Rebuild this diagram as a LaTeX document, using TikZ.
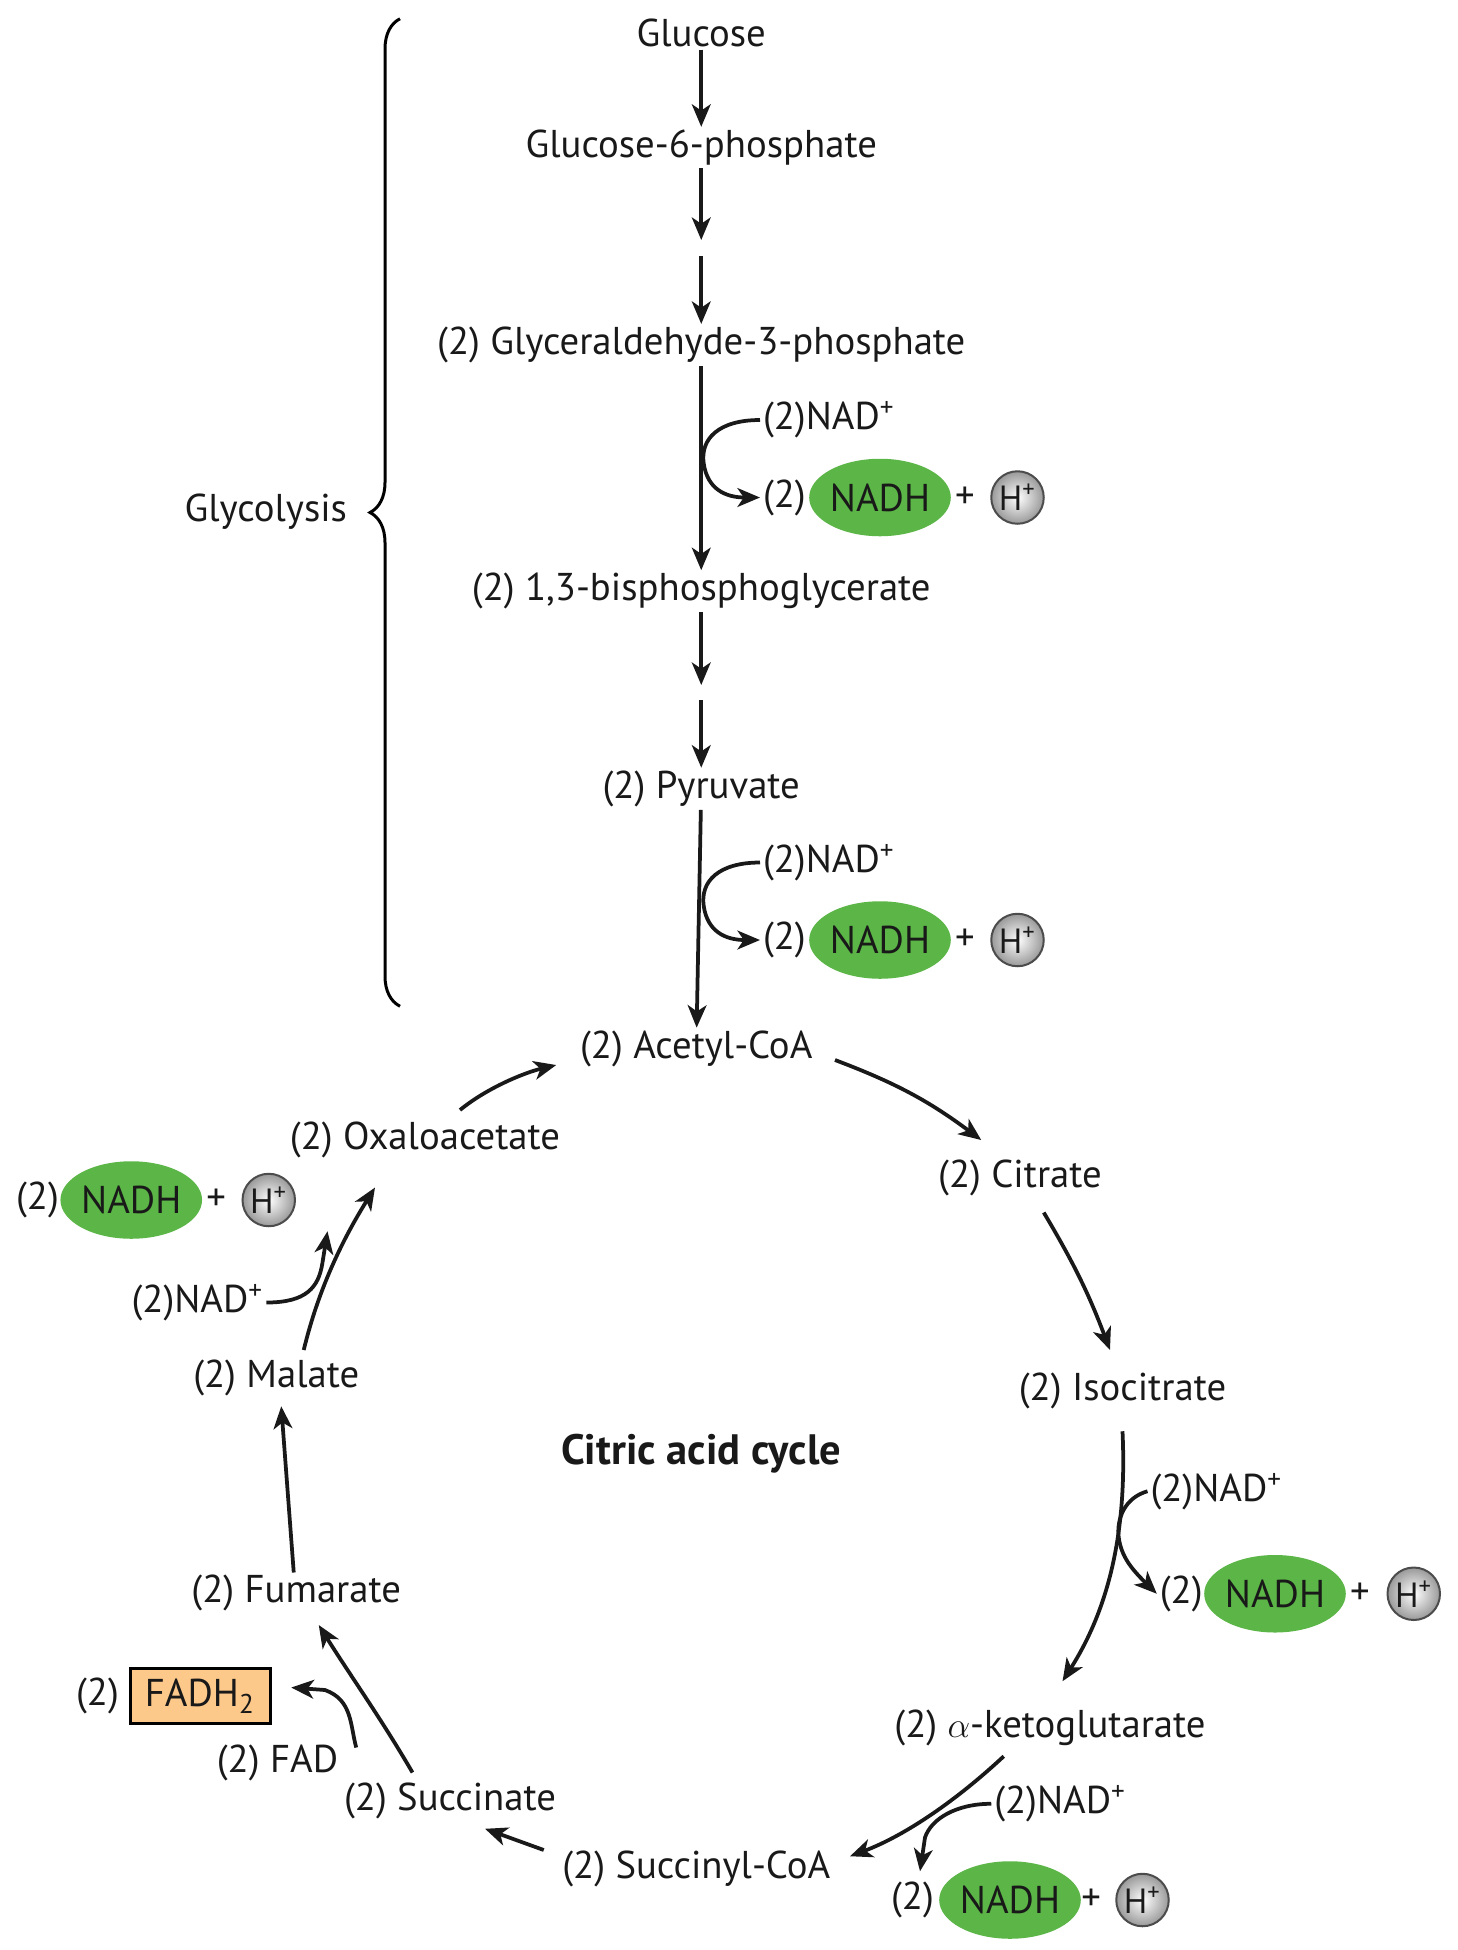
\documentclass[tikz,border=0pt]{standalone}
\usepackage{fontspec}
\setmainfont{PT Sans}
\usetikzlibrary{arrows.meta,decorations.pathreplacing}
\definecolor{nadg}{HTML}{5BB547}
\definecolor{fadc}{HTML}{FDC98A}
\begin{document}
\begin{tikzpicture}[x=0.5pt,y=-0.5pt,
  every node/.style={font=\fontsize{15.5}{18}\selectfont,text=black!90,inner sep=1pt},
  ar/.style={line width=1.5pt,draw=black!90,-{Stealth[length=9pt,width=7.5pt,inset=2.5pt]}},
  nadh/.style={ellipse,fill=nadg,minimum width=51pt,minimum height=31pt,inner sep=0pt},
  hp/.style={circle,draw=black!70,line width=0.8pt,inner color=white,outer color=black!40,minimum size=21pt,inner sep=0pt,font=\fontsize{14}{16}\selectfont}]
\useasboundingbox (0,0) rectangle (1166,1560);
\tikzset{every node/.append style={}}
\usetikzlibrary{shapes.geometric}
% glycolysis
\node (glu) at (561,26) {Glucose};
\node (g6p) at (561,118) {Glucose-6-phosphate};
\node (g3p) at (561,276) {(2) Glyceraldehyde-3-phosphate};
\node (bpg) at (561,473) {(2) 1,3-bisphosphoglycerate};
\node (pyr) at (561,631) {(2) Pyruvate};
\node (aca) at (557,839) {(2) Acetyl-CoA};
\coordinate (m1) at (561,198);
\coordinate (m2) at (561,554);
\draw[ar] (glu) -- (g6p);
\draw[ar] (g6p) -- (561,192);
\draw[ar] (561,205) -- (g3p);
\draw[ar] (bpg) -- (561,548);
\draw[ar] (561,560) -- (pyr);
\draw[ar] (g3p) -- (bpg);
\draw[ar] (pyr) -- (aca);
% branches glycolysis
\foreach \y/\n in {336/a,690/b}{
  \node[anchor=west] (nad\n) at (608,\y) {(2)NAD\textsuperscript{+}};
  \node[anchor=west] (two\n) at (608,\y+62) {(2)};
  \node[nadh] (nadh\n) at (704,\y+62) {NADH};
  \node (pl\n) at (772,\y+62) {+};
  \node[hp] (h\n) at (814,\y+62) {H\textsuperscript{+}};
  \draw[ar] (nad\n.west) .. controls (575,\y) and (560,\y+15) .. (563,\y+35) .. controls (566,\y+55) and (580,\y+62) .. (two\n.west);
}
% brace
\draw[line width=1.2pt,decorate,decoration={brace,amplitude=12pt}] (320,805) -- (320,15);
\node[anchor=east] (gly) at (280,409) {Glycolysis};
% cycle
\node (cit) at (816,942) {(2) Citrate};
\node (iso) at (898,1113) {(2) Isocitrate};
\node (akg) at (840,1382) {(2) $\alpha$-ketoglutarate};
\node (scoa) at (557,1495) {(2) Succinyl-CoA};
\node (suc) at (360,1441) {(2) Succinate};
\node (fum) at (237,1274) {(2) Fumarate};
\node (mal) at (221,1102) {(2) Malate};
\node (oxa) at (340,912) {(2) Oxaloacetate};
\node[font=\fontsize{17}{20}\selectfont\bfseries] (cac) at (561,1163) {Citric acid cycle};
\draw[ar] (668,848) to[bend left=8] (785,912);
\draw[ar] (835,970) to[bend left=5] (888,1080);
\draw[ar] (898,1145) .. controls (902,1230) and (885,1290) .. (850,1345);
\draw[ar] (803,1405) .. controls (760,1445) and (720,1470) .. (680,1485);
\draw[ar] (435,1480) -- (388,1463);
\draw[ar] (330,1418) .. controls (305,1375) and (280,1340) .. (255,1300);
\draw[ar] (235,1258) -- (225,1125);
\draw[ar] (243,1080) .. controls (255,1030) and (275,990) .. (300,950);
\draw[ar] (368,888) .. controls (390,870) and (420,858) .. (445,852);
% isocitrate branch
\node[anchor=west] (nadc) at (918,1193) {(2)NAD\textsuperscript{+}};
\node (twoc) at (945,1275) {(2)};
\node[nadh] (nadhc) at (1020,1275) {NADH};
\node (plc) at (1088,1275) {+};
\node[hp] (hc) at (1131,1275) {H\textsuperscript{+}};
\draw[ar] (nadc.west) .. controls (900,1198) and (893,1215) .. (895,1230) .. controls (897,1245) and (905,1255) .. (twoc.west);
% akg branch
\node[anchor=west] (nadd) at (793,1443) {(2)NAD\textsuperscript{+}};
\node (twod) at (730,1520) {(2)};
\node[nadh] (nadhd) at (808,1520) {NADH};
\node (pld) at (873,1520) {+};
\node[hp] (hd) at (914,1520) {H\textsuperscript{+}};
\draw[ar] (nadd.west) .. controls (765,1443) and (745,1455) .. (740,1470) -- (736,1497);
% FAD branch
\node (fad) at (222,1410) {(2) FAD};
\node (twof) at (78,1357) {(2)};
\node[draw=black,line width=1.2pt,fill=fadc,minimum width=56pt,minimum height=22pt] (fadh) at (160,1357) {FADH\textsubscript{2}};
\draw[ar] (285,1398) .. controls (280,1380) and (282,1360) .. (260,1352) -- (233,1350);
% malate branch
\node (nade) at (158,1042) {(2)NAD\textsuperscript{+}};
\node (twoe) at (30,960) {(2)};
\node[nadh] (nadhe) at (105,960) {NADH};
\node (ple) at (173,960) {+};
\node[hp] (he) at (215,960) {H\textsuperscript{+}};
\draw[ar] (nade.east) .. controls (245,1042) and (255,1030) .. (258,1010) -- (262,985);
\end{tikzpicture}
\end{document}
